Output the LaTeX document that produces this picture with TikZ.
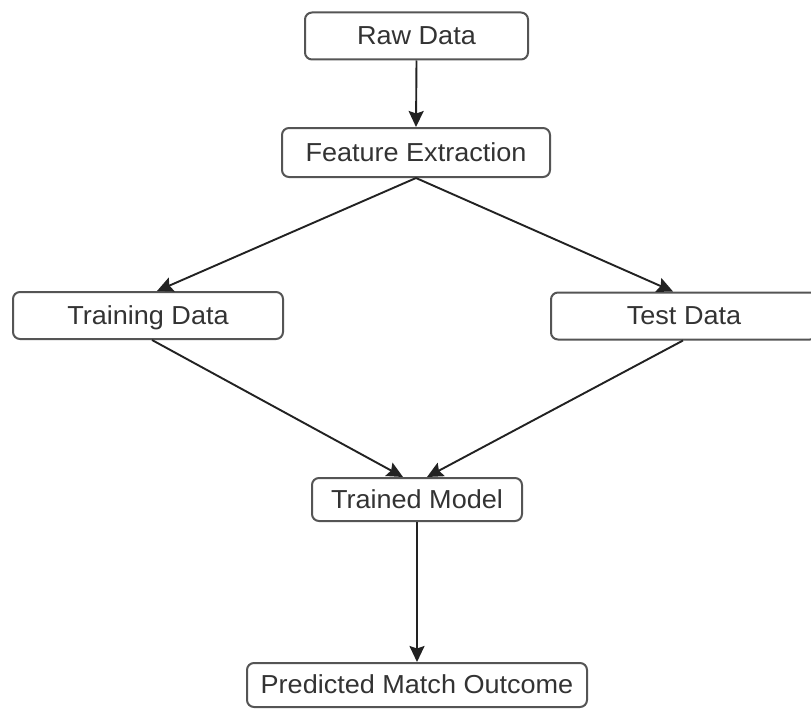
\documentclass[tikz,border=0pt]{standalone}
\usepackage{fontspec}
\setmainfont[FakeStretch=1.04]{Liberation Sans}
\usetikzlibrary{arrows.meta}
\definecolor{boxline}{HTML}{555555}
\definecolor{labeltext}{HTML}{333333}
\definecolor{arrowline}{HTML}{222222}
\tikzset{
  stagebox/.style={draw=boxline, line width=2pt, rounded corners=7pt, fill=white,
    inner sep=0pt, align=center, text=labeltext,
    text height=18pt, text depth=1pt,
    font=\fontsize{26}{30}\selectfont},
  flow/.style={draw=arrowline, line width=1.9pt,
    -{Stealth[length=16pt,width=15pt,inset=2.5pt]}}
}
\begin{document}
\begin{tikzpicture}[x=1pt,y=-1pt]
  \useasboundingbox (0,0) rectangle (811,709);
  \clip (0,0) rectangle (811,709);
  \fill[white] (0,0) rectangle (811,709);

  % processing stages
  \node[stagebox, minimum width=223pt, minimum height=47pt] (raw)   at (416.5,36)  {Raw Data};
  \node[stagebox, minimum width=268pt, minimum height=49pt] (feat)  at (416,152.5) {Feature Extraction};
  \node[stagebox, minimum width=270pt, minimum height=47pt] (train) at (148,315.5) {Training Data};
  \node[stagebox, minimum width=266pt, minimum height=47pt] (test)  at (684,316)   {Test Data};
  \node[stagebox, minimum width=210pt, minimum height=43pt] (model) at (417,499.5) {Trained Model};
  \node[stagebox, minimum width=340pt, minimum height=44pt] (pred)  at (417,685)   {Predicted Match Outcome};

  % data flow
  \draw[flow] (raw.south) -- (feat.north);
  \draw[flow] (feat.south) -- ([xshift=9pt]train.north);
  \draw[flow] (feat.south) -- ([xshift=-11pt]test.north);
  \draw[flow] ([xshift=4pt]train.south) -- ([xshift=-14pt]model.north);
  \draw[flow] ([xshift=-1pt]test.south) -- ([xshift=10pt]model.north);
  \draw[flow] (model.south) -- (pred.north);
\end{tikzpicture}
\end{document}
